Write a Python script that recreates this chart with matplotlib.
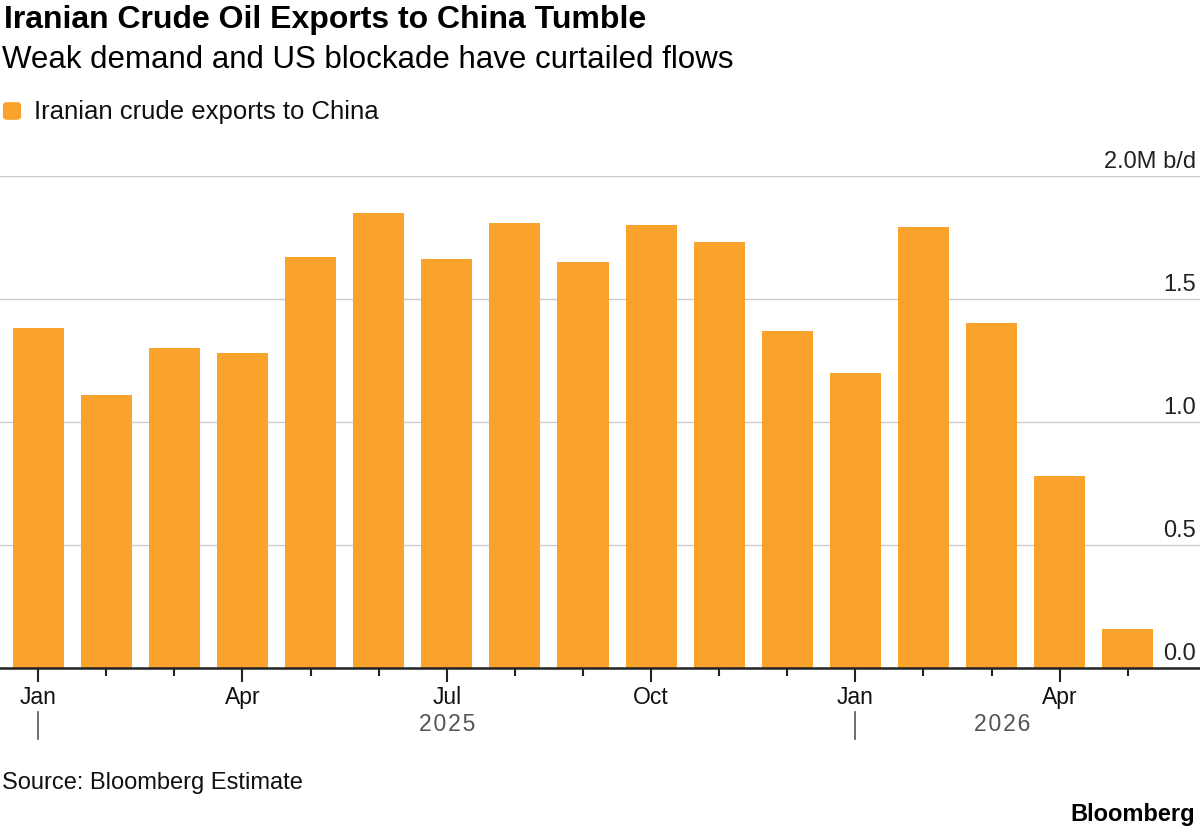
import matplotlib
matplotlib.use('Agg')
import matplotlib.pyplot as plt
from matplotlib.patches import FancyBboxPatch
from matplotlib.transforms import offset_copy
import numpy as np

# data (million barrels per day)
months = ['Jan', 'Feb', 'Mar', 'Apr', 'May', 'Jun', 'Jul', 'Aug', 'Sep', 'Oct', 'Nov', 'Dec',
          'Jan', 'Feb', 'Mar', 'Apr', 'May']
exports = [1.38, 1.11, 1.30, 1.28, 1.67, 1.85, 1.66, 1.81, 1.65, 1.80, 1.73, 1.37,
           1.20, 1.79, 1.40, 0.78, 0.16]
years = ['2025', '2026']
y_ticks = [0.0, 0.5, 1.0, 1.5, 2.0]
y_labels = ['0.0', '0.5', '1.0', '1.5', '2.0M b/d']

ORANGE = '#F9A22C'
plt.rcParams['font.family'] = ['Liberation Sans', 'DejaVu Sans']

fig = plt.figure(figsize=(12, 8.33), dpi=100)
ax = fig.add_axes([0, 0.198, 1.0, 0.591])

x = np.arange(len(months))
ax.bar(x, exports, width=0.75, color=ORANGE, zorder=2)
ax.set_xlim(-0.56, 17.06)
ax.set_ylim(0, 2.0)

# gridlines with labels sitting just above them, right aligned
lab_trans = offset_copy(ax.get_yaxis_transform(), fig=fig, x=-3, y=2, units='points')
for t, lab in zip(y_ticks, y_labels):
    if t > 0:
        ax.axhline(t, color='#cccccc', lw=1, zorder=1)
    ax.text(1.0, t, lab, transform=lab_trans, ha='right', va='bottom',
            fontsize=17, color='#222222')
ax.set_yticks([])

for s in ['top', 'right', 'left']:
    ax.spines[s].set_visible(False)
ax.spines['bottom'].set_linewidth(1.8)
ax.spines['bottom'].set_color('#222222')
ax.spines['bottom'].set_zorder(3)

major = [i for i, m in enumerate(months) if m in ('Jan', 'Apr', 'Jul', 'Oct')]
ax.set_xticks(major)
ax.set_xticklabels([months[i] for i in major], fontsize=16.5, color='#111111')
ax.set_xticks(x, minor=True)
ax.tick_params(axis='x', which='major', length=10, width=1.5, color='#222222', pad=3)
ax.tick_params(axis='x', which='minor', length=6, width=1.5, color='#222222')

# year row: separator at each January plus a spaced-out year label
trans = ax.get_xaxis_transform()
for i, yr in enumerate(years):
    start = 12 * i
    ax.plot([start, start], [-0.09, -0.145], transform=trans, color='#555555', lw=1.2,
            clip_on=False)
year_pos = [6, 14.15]
for p, yr in zip(year_pos, years):
    ax.text(p, -0.115, '\u200a'.join(yr), transform=trans, ha='center', va='center',
            fontsize=16.5, color='#555555')

# titles and legend
fig.text(0.003, 0.976, 'Iranian Crude Oil Exports to China Tumble', fontsize=23,
         fontweight='bold', va='center', color='#000000')
fig.text(0.002, 0.928, 'Weak demand and US blockade have curtailed flows', fontsize=22.5,
         va='center', color='#000000')
fig.add_artist(FancyBboxPatch((0.003, 0.857), 0.014, 0.0195,
                              boxstyle='round,pad=0,rounding_size=0.003',
                              transform=fig.transFigure, color=ORANGE))
fig.text(0.028, 0.866, 'Iranian crude exports to China', fontsize=18.5, va='center',
         color='#111111')

fig.text(0.002, 0.06, 'Source: Bloomberg Estimate', fontsize=17, va='center',
         color='#111111')
fig.text(0.996, 0.022, 'Bloomberg', fontsize=17, fontweight='bold', ha='right',
         va='center', color='#000000')

fig.savefig('out.png', dpi=100)
